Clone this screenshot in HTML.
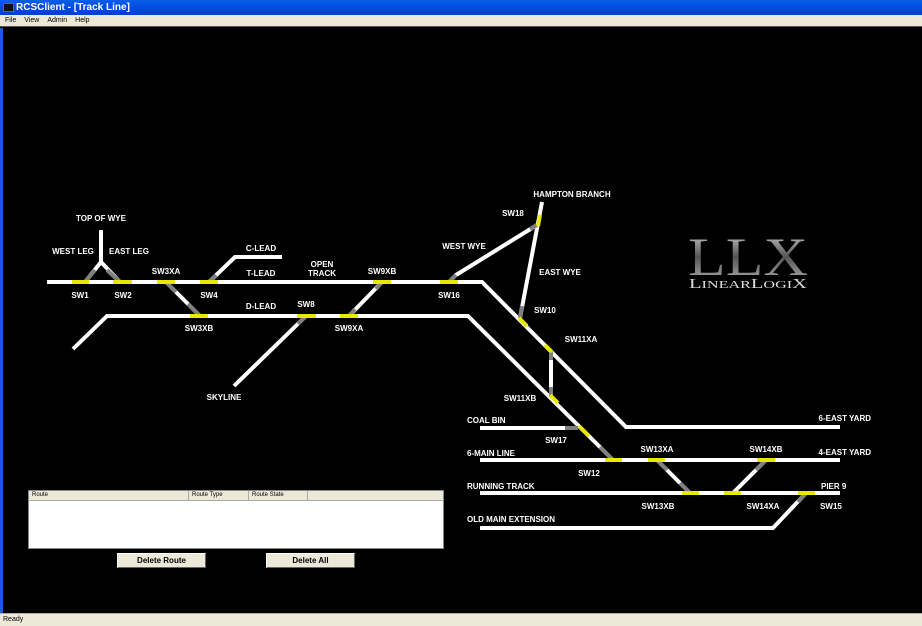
<!DOCTYPE html>
<html><head><style>
*{margin:0;padding:0;box-sizing:border-box}
body{width:922px;height:626px;overflow:hidden;background:#000;font-family:"Liberation Sans",sans-serif;position:relative}
#title{position:absolute;left:0;top:0;width:922px;height:15px;background:linear-gradient(#0a5ee8,#0048e0 60%,#0040c8);color:#fff;font-weight:bold;font-size:10px;line-height:15px;padding-left:16px}
#title .ic{position:absolute;left:3px;top:3px;width:11px;height:9px;background:#111;border:1px solid #666}
#menu{position:absolute;left:0;top:15px;width:922px;height:12px;background:#ece9d8;font-size:7px;line-height:12px;border-bottom:1px solid #555}
#menu span{margin-left:5px;margin-right:3px}
#lb{position:absolute;left:0;top:28px;width:3px;height:585px;background:#1a5be0}
#status{position:absolute;left:0;top:613px;width:922px;height:13px;background:#ece9d8;border-top:1px solid #aaa;font-size:7px;line-height:12px;padding-left:3px}
#panel{position:absolute;left:28px;top:490px;width:416px;height:59px;background:#fff;border:1px solid #888}
#hdr{height:10px;background:#ece9d8;border-bottom:1px solid #aaa;font-size:6px;line-height:9px;position:relative}
#hdr span{position:absolute;top:0;height:9px;border-right:1px solid #aaa;padding-left:3px}
.btn{position:absolute;top:553px;width:89px;height:15px;background:#ece9d8;border:1px solid #fff;border-right-color:#666;border-bottom-color:#666;font-size:8px;font-weight:bold;text-align:center;line-height:13px}
svg{position:absolute;left:0;top:0}
svg text{font-family:"Liberation Sans",sans-serif;font-weight:bold;font-size:8px;fill:#fff}
</style></head><body>
<div id="title"><div class="ic"></div>RCSClient - [Track Line]</div>
<div id="menu"><span>File</span><span>View</span><span>Admin</span><span>Help</span></div>
<div id="lb"></div>
<svg width="922" height="626" viewBox="0 0 922 626">
<g stroke="#fff" stroke-width="4" fill="none" stroke-linecap="butt" stroke-linejoin="miter">
<polyline points="47,282 482,282 626,427 840,427"/>
<polyline points="73,349 107,316 468,316 613,460"/>
<line x1="101" y1="230" x2="101" y2="262"/>
<polyline points="85,282 101,262 120,282"/>
<line x1="166" y1="282" x2="200" y2="316"/>
<polyline points="209,282 235,257 282,257"/>
<line x1="306" y1="316" x2="234" y2="386"/>
<line x1="382" y1="282" x2="349" y2="316"/>
<polyline points="449,282 456,275 537,225"/>
<line x1="542" y1="202" x2="520" y2="318"/>
<line x1="551" y1="350" x2="551" y2="397"/>
<line x1="480" y1="428" x2="578" y2="428"/>
<line x1="480" y1="460" x2="840" y2="460"/>
<line x1="480" y1="493" x2="840" y2="493"/>
<line x1="657" y1="460" x2="690" y2="493"/>
<line x1="766" y1="460" x2="733" y2="493"/>
<polyline points="480,528 773,528 806,493"/>
</g>
<g stroke="#808080" stroke-width="4">
<line x1="95" y1="270" x2="85" y2="282"/><line x1="107" y1="270" x2="120" y2="282"/>
<line x1="188" y1="304" x2="200" y2="316"/><line x1="166" y1="282" x2="176" y2="292"/>
<line x1="209" y1="282" x2="216" y2="275"/><line x1="306" y1="316" x2="298" y2="324"/>
<line x1="382" y1="282" x2="376" y2="289"/><line x1="349" y1="316" x2="355" y2="309"/>
<line x1="449" y1="282" x2="456" y2="275"/><line x1="520" y1="318" x2="522" y2="306"/>
<line x1="551" y1="350" x2="551" y2="360"/><line x1="551" y1="387" x2="551" y2="397"/>
<line x1="565" y1="428" x2="578" y2="428"/><line x1="600" y1="447" x2="613" y2="460"/>
<line x1="657" y1="460" x2="667" y2="470"/><line x1="690" y1="493" x2="680" y2="483"/>
<line x1="766" y1="460" x2="756" y2="470"/><line x1="806" y1="493" x2="798" y2="502"/>
<line x1="537" y1="225" x2="530" y2="229"/>
</g>
<g stroke="#e8e800" stroke-width="4">
<line x1="72" y1="282" x2="89" y2="282"/><line x1="113" y1="282" x2="132" y2="282"/>
<line x1="157" y1="282" x2="175" y2="282"/><line x1="200" y1="282" x2="218" y2="282"/>
<line x1="373" y1="282" x2="391" y2="282"/><line x1="440" y1="282" x2="458" y2="282"/>
<line x1="190" y1="316" x2="208" y2="316"/><line x1="297" y1="316" x2="316" y2="316"/>
<line x1="340" y1="316" x2="358" y2="316"/>
<line x1="540" y1="215" x2="538" y2="226"/>
<line x1="519" y1="318" x2="527" y2="326"/>
<line x1="545" y1="345" x2="552" y2="352"/>
<line x1="550" y1="395" x2="558" y2="403"/>
<line x1="579" y1="426" x2="589" y2="436"/>
<line x1="605" y1="460" x2="622" y2="460"/><line x1="648" y1="460" x2="665" y2="460"/>
<line x1="757" y1="460" x2="775" y2="460"/>
<line x1="682" y1="493" x2="699" y2="493"/><line x1="724" y1="493" x2="741" y2="493"/>
<line x1="798" y1="493" x2="815" y2="493"/>
</g>
<g text-anchor="middle">
<text x="101" y="221">TOP OF WYE</text>
<text x="73" y="254">WEST LEG</text><text x="129" y="254">EAST LEG</text>
<text x="80" y="298">SW1</text><text x="123" y="298">SW2</text>
<text x="166" y="274">SW3XA</text><text x="209" y="298">SW4</text>
<text x="261" y="251">C-LEAD</text><text x="261" y="276">T-LEAD</text>
<text x="322" y="267">OPEN</text><text x="322" y="276">TRACK</text>
<text x="382" y="274">SW9XB</text><text x="449" y="298">SW16</text>
<text x="261" y="309">D-LEAD</text><text x="306" y="307">SW8</text>
<text x="199" y="331">SW3XB</text><text x="349" y="331">SW9XA</text>
<text x="224" y="400">SKYLINE</text>
<text x="572" y="197">HAMPTON BRANCH</text><text x="513" y="216">SW18</text>
<text x="464" y="249">WEST WYE</text><text x="560" y="275">EAST WYE</text>
<text x="545" y="313">SW10</text><text x="581" y="342">SW11XA</text>
<text x="520" y="401">SW11XB</text><text x="556" y="443">SW17</text>
<text x="589" y="476">SW12</text><text x="657" y="452">SW13XA</text>
<text x="766" y="452">SW14XB</text>
<text x="658" y="509">SW13XB</text><text x="763" y="509">SW14XA</text><text x="831" y="509">SW15</text>
</g>
<g>
<text x="467" y="423">COAL BIN</text><text x="467" y="456">6-MAIN LINE</text>
<text x="467" y="489">RUNNING TRACK</text><text x="467" y="522">OLD MAIN EXTENSION</text>
<text x="821" y="489">PIER 9</text>
</g>
<g text-anchor="end"><text x="871" y="421">6-EAST YARD</text><text x="871" y="455">4-EAST YARD</text></g>
<defs><linearGradient id="mg" x1="0" y1="0" x2="0" y2="1"><stop offset="0" stop-color="#ddd"/><stop offset="0.5" stop-color="#555"/><stop offset="1" stop-color="#bbb"/></linearGradient></defs>
<text x="688" y="275" style="font-family:'Liberation Serif',serif;font-weight:normal;font-size:54px;fill:url(#mg)" textLength="120" lengthAdjust="spacingAndGlyphs">LLX</text>
<text x="689" y="288" style="font-family:'Liberation Serif',serif;font-weight:normal;font-size:14px;fill:#ddd" textLength="118" lengthAdjust="spacingAndGlyphs">L<tspan font-size="11">INEAR</tspan>L<tspan font-size="11">OGI</tspan>X</text>
</svg>
<div id="panel"><div id="hdr"><span style="left:0;width:160px">Route</span><span style="left:160px;width:60px">Route Type</span><span style="left:220px;width:59px">Route State</span></div></div>
<div class="btn" style="left:117px">Delete Route</div>
<div class="btn" style="left:266px">Delete All</div>
<div id="status">Ready</div>
</body></html>
